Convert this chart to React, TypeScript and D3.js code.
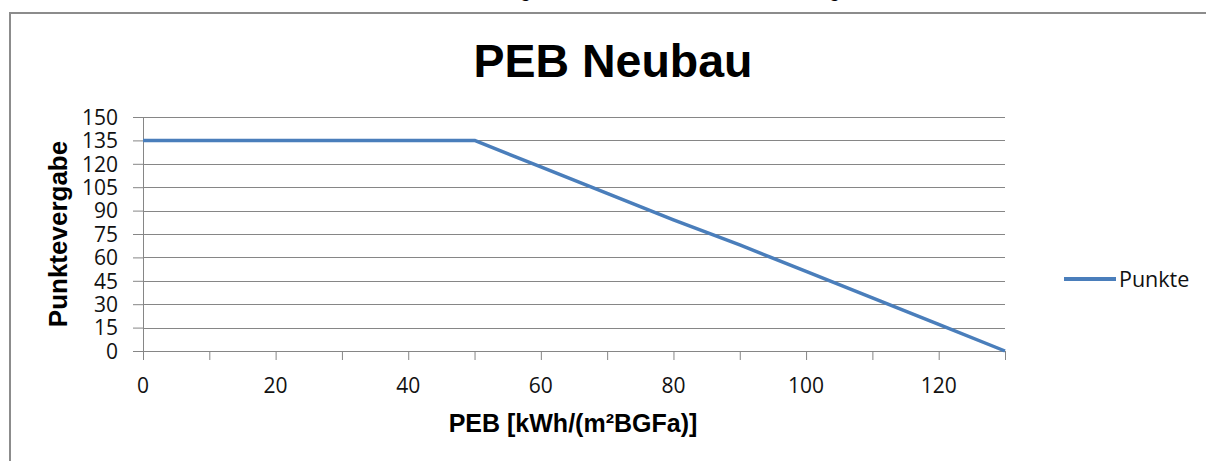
import { useEffect, useRef } from "react";
import * as d3 from "d3";

// PEB values (kWh/(m²BGFa)) and awarded points
const pebValues = [0, 10, 20, 30, 40, 50, 60, 70, 80, 90, 100, 110, 120, 130];
const punkte = [135, 135, 135, 135, 135, 135, 118, 101, 84, 68, 51, 34, 17, 0];
const yTicks = [0, 15, 30, 45, 60, 75, 90, 105, 120, 135, 150];
const xLabelTicks = [0, 20, 40, 60, 80, 100, 120];
const xMarkTicks = [0, 10, 20, 30, 40, 50, 60, 70, 80, 90, 100, 110, 120, 130];
const seriesName = "Punkte";

const W = 1206;
const H = 461;
const tickFont = "'Open Sans', sans-serif";
const boldFont = "'Liberation Sans', Arial, sans-serif";

const App = () => {
  const ref = useRef<SVGSVGElement>(null);

  useEffect(() => {
    const svg = d3.select(ref.current);
    svg.selectAll("*").remove();

    let x = d3.scaleLinear().domain([0, 130]).range([143, 1005]);
    let y = d3.scaleLinear().domain([0, 150]).range([351, 117]);

    svg.append("rect").attr("width", W).attr("height", H).attr("fill", "#fff");

    // bits of the text line above the chart that got cut off
    [520, 829].forEach((gx) => {
      svg.append("text")
        .attr("x", gx).attr("y", -3)
        .attr("font-family", boldFont).attr("font-size", 20)
        .text("g");
    });

    // chart frame
    svg.append("rect")
      .attr("x", 10).attr("y", 13)
      .attr("width", W + 20).attr("height", H + 20)
      .attr("fill", "none").attr("stroke", "#8c8c8c").attr("stroke-width", 2);

    // gridlines
    svg.append("g")
      .selectAll("line")
      .data(yTicks.filter((t) => t > 0))
      .join("line")
      .attr("x1", x(0)).attr("x2", x(130))
      .attr("y1", (d) => Math.round(y(d)) + 0.5).attr("y2", (d) => Math.round(y(d)) + 0.5)
      .attr("stroke", "#868686").attr("stroke-width", 1);

    // y axis
    const gy = svg.append("g").attr("transform", `translate(${x(0)},0)`)
      .call(d3.axisLeft(y).tickValues(yTicks).tickSize(10).tickPadding(15).tickFormat(d3.format("d")));
    gy.select(".domain").attr("stroke", "#868686");
    gy.selectAll(".tick line").attr("stroke", "#868686");
    gy.selectAll("text")
      .attr("font-family", tickFont).attr("font-size", 21).attr("fill", "#111")
      .attr("dy", "0.35em");

    // x axis
    const gx = svg.append("g").attr("transform", `translate(0,${y(0)})`)
      .call(d3.axisBottom(x).tickValues(xMarkTicks).tickSize(9).tickFormat(() => ""));
    gx.select(".domain").attr("stroke", "#868686");
    gx.selectAll(".tick line").attr("stroke", "#868686");
    svg.append("g")
      .selectAll("text")
      .data(xLabelTicks)
      .join("text")
      .attr("x", (d) => x(d)).attr("y", 393)
      .attr("text-anchor", "middle")
      .attr("font-family", tickFont).attr("font-size", 21).attr("fill", "#111")
      .text((d) => d);

    // line
    const line = d3.line<number>()
      .x((_, i) => x(pebValues[i]))
      .y((d) => y(d));
    svg.append("path")
      .datum(punkte)
      .attr("d", line)
      .attr("fill", "none")
      .attr("stroke", "#4a7ebb")
      .attr("stroke-width", 3.5)
      .attr("stroke-linejoin", "round");

    // titles
    svg.append("text")
      .attr("x", 613).attr("y", 77)
      .attr("text-anchor", "middle")
      .attr("font-family", boldFont).attr("font-weight", "bold").attr("font-size", 46.5)
      .text("PEB Neubau");

    svg.append("text")
      .attr("x", 573).attr("y", 432)
      .attr("text-anchor", "middle")
      .attr("font-family", boldFont).attr("font-weight", "bold").attr("font-size", 25)
      .text("PEB [kWh/(m²BGFa)]");

    svg.append("text")
      .attr("transform", "translate(67,234) rotate(-90)")
      .attr("text-anchor", "middle")
      .attr("font-family", boldFont).attr("font-weight", "bold").attr("font-size", 26)
      .text("Punktevergabe");

    // legend
    svg.append("line")
      .attr("x1", 1064).attr("x2", 1116).attr("y1", 279).attr("y2", 279)
      .attr("stroke", "#4a7ebb").attr("stroke-width", 4);
    svg.append("text")
      .attr("x", 1119).attr("y", 287)
      .attr("font-family", tickFont).attr("font-size", 21.5).attr("fill", "#111")
      .text(seriesName);
  }, []);

  return (
    <svg
      ref={ref}
      width={W}
      height={H}
      style={{ position: "absolute", left: 0, top: 0 }}
    />
  );
};

export default App;
